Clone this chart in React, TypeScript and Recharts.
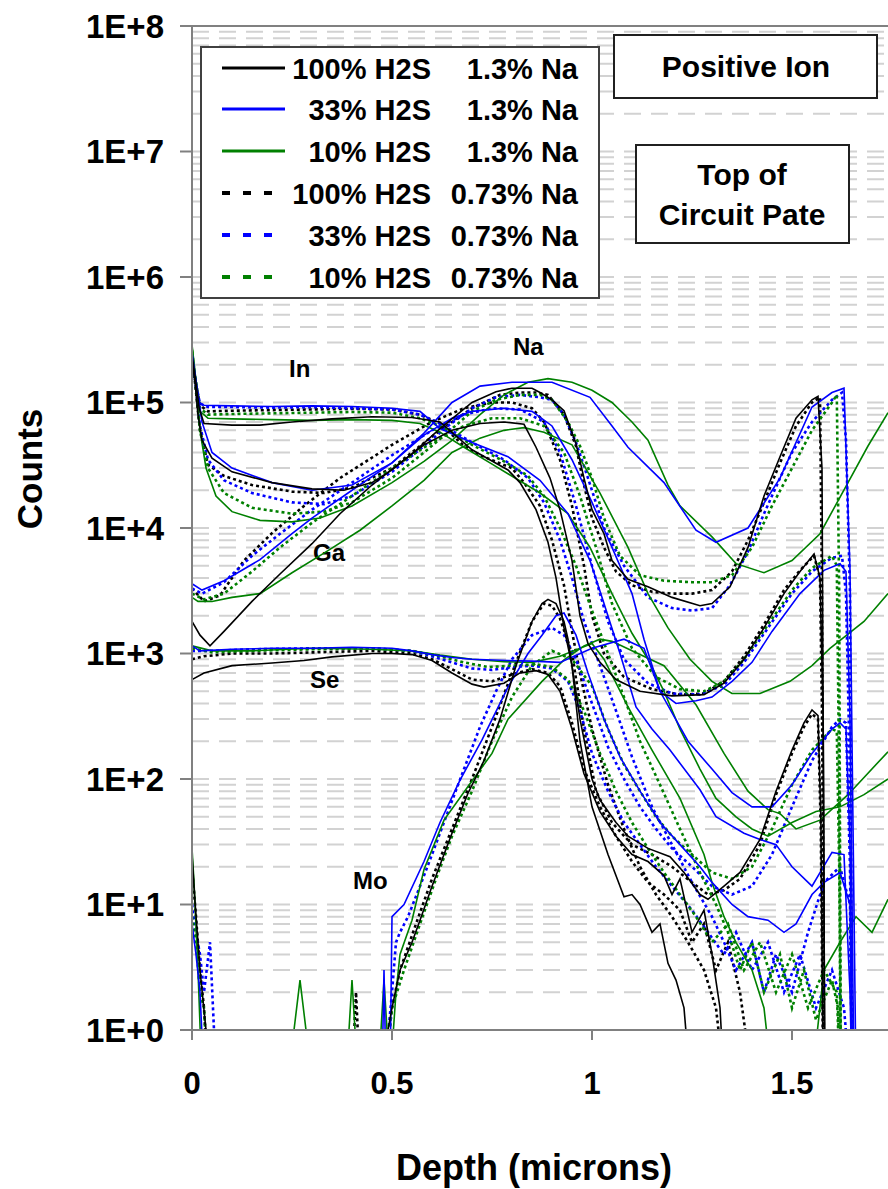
import React from 'react';
import { LineChart, Line, XAxis, YAxis, CartesianGrid, ReferenceLine, Customized } from 'recharts';

type Pt = [number, number | null];

const FONT = '"Liberation Sans", Arial, Helvetica, sans-serif';

// axis ticks
const xTicks = [0, 0.5, 1, 1.5];
const yTicks = [1, 1e1, 1e2, 1e3, 1e4, 1e5, 1e6, 1e7, 1e8];
const yTickLabels = ['1E+0', '1E+1', '1E+2', '1E+3', '1E+4', '1E+5', '1E+6', '1E+7', '1E+8'];
const gridDecades = [1, 1e1, 1e2, 1e3, 1e4, 1e5, 1e6, 1e7];
const gridSteps = [1, 2, 3, 4, 5, 6, 7, 8, 9];

// legend
const legendH2S = ['100% H2S', '33% H2S', '10% H2S', '100% H2S', '33% H2S', '10% H2S'];
const legendNa = ['1.3% Na', '1.3% Na', '1.3% Na', '0.73% Na', '0.73% Na', '0.73% Na'];

// ---- 100% H2S 1.3% Na (black solid) ----
const inK13: Pt[] = [[0,2.4e5],[0.008,1.6e5],[0.018,9e4],[0.03,6.8e4],[0.1,6.6e4],[0.17,6.6e4],[0.25,7e4],[0.35,7.4e4],[0.45,7.7e4],[0.55,7.6e4],[0.62,7e4],[0.7,4.2e4],[0.79,2.9e4],[0.82,2.3e4],[0.86,1.4e4],[0.89,7.7e3],[0.91,4e3],[0.93,1.6e3],[0.95,800],[0.97,200],[1.0,60],[1.04,25],[1.08,11.5],[1.1,12],[1.12,10],[1.15,6],[1.17,7],[1.19,3.4],[1.21,2.5],[1.23,1.5],[1.245,0.4]];
const naK13: Pt[] = [[0,2.2e5],[0.008,1.4e5],[0.015,8e4],[0.025,5e4],[0.05,3.6e4],[0.1,2.8e4],[0.2,2.3e4],[0.3,2.05e4],[0.38,2e4],[0.45,2.3e4],[0.5,2.9e4],[0.55,3.9e4],[0.62,6.2e4],[0.7,1e5],[0.76,1.22e5],[0.8,1.3e5],[0.85,1.3e5],[0.87,1.2e5],[0.9,1.05e5],[0.93,8.6e4],[0.96,4.7e4],[0.98,2.5e4],[1.0,1.4e4],[1.03,9e3],[1.05,5.5e3],[1.09,3.9e3],[1.14,3.4e3],[1.2,2.8e3],[1.27,2.4e3],[1.3,2.5e3],[1.345,3.4e3],[1.39,7e3],[1.43,1.8e4],[1.47,3.7e4],[1.51,7.5e4],[1.55,1.05e5],[1.565,1.12e5],[1.575,3e4],[1.582,0.4]];
const gaK13: Pt[] = [[0,1.8e3],[0.02,1.4e3],[0.045,1.15e3],[0.08,1.5e3],[0.15,2.6e3],[0.22,4.3e3],[0.3,7.5e3],[0.37,1.3e4],[0.45,2.2e4],[0.52,3.3e4],[0.58,4.6e4],[0.65,6e4],[0.72,6.8e4],[0.78,7e4],[0.83,6.7e4],[0.86,4.4e4],[0.895,2.5e4],[0.92,1.4e4],[0.95,5.5e3],[0.97,2e3],[0.99,1.2e3],[1.02,850],[1.06,620],[1.12,500],[1.2,460],[1.28,470],[1.33,580],[1.38,900],[1.43,1.6e3],[1.48,3e3],[1.52,4.5e3],[1.555,6.2e3],[1.57,4e3],[1.578,300],[1.582,0.4]];
const seK13: Pt[] = [[0,620],[0.03,700],[0.1,800],[0.2,840],[0.28,880],[0.35,940],[0.45,1e3],[0.5,1e3],[0.55,980],[0.6,880],[0.65,700],[0.7,570],[0.73,540],[0.78,580],[0.82,700],[0.86,730],[0.89,680],[0.92,500],[0.95,250],[0.98,110],[1.02,55],[1.06,35],[1.1,25],[1.14,22],[1.18,17],[1.2,12],[1.22,16],[1.25,6],[1.28,9],[1.3,4],[1.32,1.5],[1.33,0.4]];
const moK13: Pt[] = [[0,25],[0.008,10],[0.02,3],[0.035,1],[0.042,0.4],[0.045,null],[0.47,0.4],[0.49,1],[0.5,1.5],[0.52,3],[0.55,5],[0.57,7.5],[0.6,14],[0.65,37],[0.69,77],[0.73,140],[0.77,300],[0.81,800],[0.85,1.8e3],[0.875,2.5e3],[0.89,2.7e3],[0.91,2.5e3],[0.93,1.8e3],[0.94,1.3e3],[0.97,300],[1.0,100],[1.02,68],[1.06,45],[1.09,35],[1.14,28],[1.195,24],[1.23,18],[1.27,12],[1.29,11],[1.33,14],[1.37,18],[1.42,33],[1.46,80],[1.5,170],[1.53,280],[1.55,355],[1.565,320],[1.572,50],[1.578,0.4]];

// ---- 33% H2S 1.3% Na (blue solid) ----
const inB13: Pt[] = [[0,2.3e5],[0.008,1.5e5],[0.018,1e5],[0.03,9.5e4],[0.1,9.4e4],[0.2,9.3e4],[0.3,9.4e4],[0.4,9.3e4],[0.5,9e4],[0.57,8.5e4],[0.62,6.2e4],[0.7,4.8e4],[0.79,3.7e4],[0.87,2.4e4],[0.94,1.3e4],[0.995,5.5e3],[1.03,2.5e3],[1.07,1e3],[1.11,375],[1.15,250],[1.195,170],[1.27,82],[1.31,50],[1.38,37],[1.42,33],[1.46,30],[1.5,20],[1.55,14],[1.6,26],[1.63,25],[1.645,2],[1.65,0.4]];
const naB13: Pt[] = [[0,2.5e5],[0.01,1.5e5],[0.025,7e4],[0.05,4e4],[0.1,3e4],[0.2,2.3e4],[0.3,2e4],[0.4,2.2e4],[0.5,3.3e4],[0.58,5.7e4],[0.65,1e5],[0.72,1.35e5],[0.8,1.45e5],[0.9,1.45e5],[0.995,1.1e5],[1.05,6.5e4],[1.09,4.4e4],[1.18,2.3e4],[1.26,9.6e3],[1.31,7.7e3],[1.39,1e4],[1.47,2.5e4],[1.55,9.2e4],[1.6,1.2e5],[1.63,1.3e5],[1.645,4.6e3],[1.66,0.4]];
const gaB13: Pt[] = [[0,3.6e3],[0.025,3.2e3],[0.08,3.8e3],[0.17,5.6e3],[0.25,9e3],[0.3,1.2e4],[0.4,2e4],[0.5,3.3e4],[0.58,5.5e4],[0.65,7.5e4],[0.7,8.5e4],[0.78,9e4],[0.85,8.5e4],[0.9,6.5e4],[0.95,3.5e4],[1.0,1.6e4],[1.05,7e3],[1.1,3e3],[1.13,1.3e3],[1.17,500],[1.21,400],[1.26,420],[1.3,450],[1.35,600],[1.4,850],[1.45,1.5e3],[1.52,3e3],[1.58,4.6e3],[1.62,5.2e3],[1.635,4.5e3],[1.645,300],[1.655,0.4]];
const seB13: Pt[] = [[0,1.15e3],[0.02,1.05e3],[0.1,1.08e3],[0.2,1.1e3],[0.3,1.1e3],[0.4,1.12e3],[0.5,1.1e3],[0.55,1.05e3],[0.6,980],[0.65,930],[0.7,900],[0.79,880],[0.85,870],[0.92,850],[1.0,1.1e3],[1.08,1.3e3],[1.13,1.1e3],[1.17,500],[1.24,200],[1.3,120],[1.35,78],[1.4,60],[1.45,60],[1.5,90],[1.55,160],[1.6,250],[1.62,280],[1.635,250],[1.645,30],[1.652,0.4]];
const moB13: Pt[] = [[0,7],[0.01,4],[0.02,2],[0.03,0.4],[0.035,null],[0.475,0.4],[0.48,3],[0.485,0.4],[0.487,null],[0.495,0.4],[0.5,8],[0.53,10],[0.58,22],[0.62,45],[0.67,98],[0.725,205],[0.79,540],[0.84,1e3],[0.875,1.4e3],[0.91,2e3],[0.93,2.1e3],[0.96,1.4e3],[0.99,700],[1.03,300],[1.07,150],[1.12,80],[1.17,45],[1.22,30],[1.27,20],[1.3,15],[1.35,10],[1.39,8],[1.44,7.5],[1.48,6],[1.51,7],[1.55,12],[1.58,15],[1.62,18],[1.645,10],[1.65,0.4]];

// ---- 10% H2S 1.3% Na (green solid) ----
const inG13: Pt[] = [[0,2.9e5],[0.008,1.7e5],[0.02,8.5e4],[0.04,7.5e4],[0.1,7.4e4],[0.2,7.3e4],[0.3,7.2e4],[0.4,7.3e4],[0.5,7.2e4],[0.57,6.8e4],[0.62,5.8e4],[0.68,4.4e4],[0.745,3.3e4],[0.87,1.9e4],[0.94,1.3e4],[0.995,7e3],[1.05,3e3],[1.1,1.45e3],[1.14,900],[1.18,500],[1.22,250],[1.27,120],[1.31,70],[1.36,50],[1.4,40],[1.44,35],[1.5,45],[1.56,55],[1.62,60],[1.68,75],[1.74,100]];
const naG13: Pt[] = [[0,2.8e5],[0.008,1.6e5],[0.02,6e4],[0.035,3e4],[0.06,1.8e4],[0.1,1.35e4],[0.17,1.15e4],[0.25,1.12e4],[0.32,1.2e4],[0.4,1.5e4],[0.5,2.3e4],[0.58,3.4e4],[0.65,5e4],[0.72,8e4],[0.78,1.15e5],[0.84,1.45e5],[0.89,1.55e5],[0.95,1.45e5],[1.0,1.25e5],[1.05,1e5],[1.1,7e4],[1.14,5e4],[1.19,2.2e4],[1.22,1.5e4],[1.3,8.5e3],[1.36,5.2e3],[1.43,4.4e3],[1.5,5.5e3],[1.57,9e3],[1.64,2.3e4],[1.69,4.5e4],[1.74,8.3e4]];
const gaG13: Pt[] = [[0,2.8e3],[0.015,2.6e3],[0.05,2.6e3],[0.1,2.8e3],[0.17,3e3],[0.25,4.4e3],[0.33,6.3e3],[0.42,9.6e3],[0.5,1.5e4],[0.58,2.4e4],[0.65,4e4],[0.72,5.2e4],[0.78,6e4],[0.83,6.3e4],[0.88,5.8e4],[0.95,4.6e4],[1.02,1.9e4],[1.09,7e3],[1.14,3e3],[1.19,1.6e3],[1.245,900],[1.3,600],[1.35,480],[1.42,480],[1.495,600],[1.55,800],[1.595,1.1e3],[1.68,1.8e3],[1.74,3e3]];
const seG13: Pt[] = [[0,1.15e3],[0.05,1.05e3],[0.15,1.05e3],[0.3,1.1e3],[0.45,1.08e3],[0.55,1.05e3],[0.62,970],[0.7,900],[0.78,860],[0.85,850],[0.92,950],[1.0,1.2e3],[1.03,900],[1.09,375],[1.15,170],[1.22,70],[1.28,25],[1.3,15],[1.33,8],[1.36,5],[1.4,3],[1.43,1.5],[1.45,0.4],[1.46,null],[1.55,0.4],[1.58,3],[1.62,5],[1.66,8],[1.7,6],[1.74,11]];
const moG13: Pt[] = [[0,28],[0.005,15],[0.015,3],[0.025,0.4],[0.03,null],[0.24,0.4],[0.27,2.5],[0.3,0.4],[0.31,null],[0.385,0.4],[0.4,2.5],[0.415,0.4],[0.42,null],[0.465,0.4],[0.48,2.5],[0.495,0.4],[0.51,2],[0.52,4],[0.55,7.5],[0.58,19],[0.63,47],[0.69,87],[0.75,160],[0.79,300],[0.875,600],[0.93,890],[0.98,1.15e3],[1.02,1.3e3],[1.05,1.25e3],[1.1,1.05e3],[1.18,800],[1.26,390],[1.33,160],[1.39,80],[1.44,57],[1.47,53],[1.51,40],[1.57,47],[1.64,75],[1.74,165]];

// ---- 100% H2S 0.73% Na (black dotted) ----
const inK073: Pt[] = [[0,2.4e5],[0.008,1.5e5],[0.02,9.5e4],[0.04,8.5e4],[0.1,8.6e4],[0.2,8.7e4],[0.3,8.8e4],[0.4,8.9e4],[0.5,8.8e4],[0.57,8e4],[0.62,6.8e4],[0.68,4.5e4],[0.72,3.8e4],[0.8,3e4],[0.83,2.3e4],[0.87,1.5e4],[0.9,8e3],[0.93,3.5e3],[0.95,1.5e3],[0.97,700],[1.0,250],[1.04,90],[1.08,40],[1.12,20],[1.16,12],[1.2,8],[1.24,5],[1.28,3],[1.31,1.5],[1.33,0.4]];
const naK073: Pt[] = [[0,2.3e5],[0.008,1.4e5],[0.02,6e4],[0.04,3.2e4],[0.08,2.6e4],[0.15,2.2e4],[0.25,1.95e4],[0.33,1.9e4],[0.4,2.1e4],[0.5,3e4],[0.57,4.5e4],[0.62,6e4],[0.7,9e4],[0.77,1.15e5],[0.82,1.2e5],[0.86,1.2e5],[0.89,1.15e5],[0.93,8e4],[0.96,4.5e4],[0.98,2.2e4],[1.0,1.2e4],[1.03,7e3],[1.06,4.5e3],[1.1,3.5e3],[1.15,3.1e3],[1.2,3e3],[1.25,3e3],[1.3,3.2e3],[1.35,4.5e3],[1.39,8e3],[1.43,1.6e4],[1.47,3.3e4],[1.51,6.5e4],[1.55,1e5],[1.57,1.1e5],[1.575,3e3],[1.58,0.4]];
const gaK073: Pt[] = [[0,3.3e3],[0.03,2.6e3],[0.07,2.9e3],[0.13,5.5e3],[0.2,9.1e3],[0.28,1.5e4],[0.37,2.5e4],[0.5,4.6e4],[0.6,7e4],[0.68,9e4],[0.75,1e5],[0.8,1e5],[0.85,9e4],[0.88,7e4],[0.92,3.5e4],[0.95,1.5e4],[0.98,5e3],[1.0,2e3],[1.03,1e3],[1.08,650],[1.15,520],[1.22,470],[1.28,480],[1.33,600],[1.38,950],[1.43,1.7e3],[1.48,3.2e3],[1.52,4.6e3],[1.555,6e3],[1.57,4e3],[1.576,200],[1.58,0.4]];
const seK073: Pt[] = [[0,900],[0.03,950],[0.1,1e3],[0.2,1e3],[0.3,1.02e3],[0.45,1.05e3],[0.55,1e3],[0.6,900],[0.65,750],[0.7,620],[0.75,600],[0.8,680],[0.85,750],[0.89,700],[0.92,550],[0.95,280],[0.98,120],[1.02,60],[1.06,35],[1.1,22],[1.14,15],[1.18,12],[1.22,9],[1.25,5],[1.28,7],[1.31,3],[1.34,5],[1.37,2],[1.4,0.4]];
const moK073: Pt[] = [[0,20],[0.01,8],[0.02,3],[0.03,1.5],[0.04,0.4],[0.045,null],[0.4,0.4],[0.41,2],[0.42,0.4],[0.425,null],[0.48,0.4],[0.5,1.5],[0.52,3],[0.56,7],[0.6,16],[0.65,40],[0.7,100],[0.75,260],[0.8,700],[0.85,1.8e3],[0.88,2.5e3],[0.9,2.4e3],[0.92,1.9e3],[0.95,1e3],[0.98,250],[1.01,80],[1.05,45],[1.1,30],[1.15,25],[1.2,20],[1.25,15],[1.29,12],[1.33,13],[1.37,16],[1.42,30],[1.46,75],[1.5,160],[1.53,260],[1.55,330],[1.565,300],[1.572,40],[1.578,0.4]];

// ---- 33% H2S 0.73% Na (blue dotted) ----
const inB073: Pt[] = [[0,2.3e5],[0.008,1.5e5],[0.02,9.8e4],[0.04,9.2e4],[0.1,9.2e4],[0.2,9.1e4],[0.3,9.2e4],[0.4,9e4],[0.5,8.8e4],[0.57,8e4],[0.62,6.8e4],[0.7,4.8e4],[0.78,3.5e4],[0.84,2.5e4],[0.88,1.6e4],[0.92,8e3],[0.95,4e3],[0.98,1.8e3],[1.02,800],[1.06,350],[1.1,150],[1.15,60],[1.2,30],[1.25,15],[1.3,8],[1.33,5],[1.36,3],[1.4,5],[1.43,2],[1.46,4],[1.5,2],[1.54,6],[1.58,15],[1.62,20],[1.645,10],[1.65,0.4]];
const naB073: Pt[] = [[0,2.4e5],[0.008,1.5e5],[0.02,6.5e4],[0.04,3.5e4],[0.08,2.4e4],[0.15,1.9e4],[0.25,1.6e4],[0.33,1.55e4],[0.4,1.8e4],[0.5,2.8e4],[0.58,4.5e4],[0.64,6.5e4],[0.7,9e4],[0.76,1.1e5],[0.82,1.15e5],[0.87,1.1e5],[0.9,1.05e5],[0.93,8e4],[0.96,4.8e4],[0.99,2.5e4],[1.03,1e4],[1.08,5e3],[1.14,2.8e3],[1.2,2.3e3],[1.25,2.2e3],[1.3,2.3e3],[1.345,3.5e3],[1.39,6.5e3],[1.43,1.3e4],[1.47,2.5e4],[1.5,4e4],[1.55,7e4],[1.6,1.05e5],[1.625,1.2e5],[1.635,5e4],[1.645,3e3],[1.65,0.4]];
const gaB073: Pt[] = [[0,3.3e3],[0.025,3e3],[0.08,3.7e3],[0.15,6e3],[0.22,9e3],[0.3,1.4e4],[0.4,2.3e4],[0.5,3.8e4],[0.6,6e4],[0.68,8e4],[0.75,9e4],[0.82,8.8e4],[0.88,7e4],[0.92,4e4],[0.96,1.5e4],[1.0,5e3],[1.04,1.8e3],[1.08,900],[1.14,580],[1.2,480],[1.27,470],[1.33,560],[1.38,850],[1.44,1.6e3],[1.5,3e3],[1.55,4.5e3],[1.6,5.8e3],[1.625,6e3],[1.635,3e3],[1.645,100],[1.65,0.4]];
const seB073: Pt[] = [[0,1.05e3],[0.05,1.05e3],[0.15,1.08e3],[0.3,1.1e3],[0.45,1.1e3],[0.55,1.05e3],[0.6,950],[0.65,850],[0.7,760],[0.75,740],[0.8,780],[0.85,800],[0.9,760],[0.94,600],[0.97,350],[1.0,160],[1.04,80],[1.08,45],[1.12,30],[1.16,20],[1.2,14],[1.25,9],[1.29,6],[1.33,4],[1.36,6],[1.4,3],[1.44,5],[1.48,2],[1.52,4],[1.56,1.5],[1.6,3],[1.63,1.5],[1.645,0.4]];
const moB073: Pt[] = [[0,10],[0.01,6],[0.02,4],[0.03,2],[0.045,5],[0.055,1],[0.06,0.4],[0.065,null],[0.48,0.4],[0.5,2],[0.51,5],[0.52,6],[0.54,8],[0.57,14],[0.6,25],[0.64,55],[0.68,120],[0.72,260],[0.76,500],[0.8,900],[0.85,1.4e3],[0.9,1.6e3],[0.93,1.4e3],[0.96,900],[1.0,400],[1.04,180],[1.08,100],[1.12,60],[1.16,40],[1.2,28],[1.25,20],[1.3,14],[1.35,12],[1.4,14],[1.45,25],[1.5,60],[1.55,140],[1.6,260],[1.62,300],[1.635,280],[1.645,20],[1.65,0.4]];

// ---- 10% H2S 0.73% Na (green dotted) ----
const inG073: Pt[] = [[0,2.5e5],[0.008,1.6e5],[0.02,9e4],[0.04,8e4],[0.1,8.1e4],[0.2,8.2e4],[0.3,8.3e4],[0.4,8.4e4],[0.5,8.3e4],[0.57,7.5e4],[0.62,6.5e4],[0.7,4.6e4],[0.78,3.4e4],[0.84,2.6e4],[0.88,1.8e4],[0.92,1e4],[0.96,5e3],[1.0,2.2e3],[1.04,1e3],[1.08,450],[1.12,200],[1.17,90],[1.22,40],[1.27,18],[1.31,10],[1.34,6],[1.37,3],[1.4,5],[1.43,2],[1.47,4],[1.5,1.5],[1.53,3],[1.56,1.2],[1.6,2.5],[1.615,1.5],[1.62,0.4]];
const naG073: Pt[] = [[0,2.6e5],[0.008,1.5e5],[0.02,6e4],[0.04,3e4],[0.08,1.9e4],[0.15,1.45e4],[0.25,1.3e4],[0.33,1.35e4],[0.4,1.6e4],[0.5,2.5e4],[0.58,4e4],[0.64,5.8e4],[0.7,8.5e4],[0.76,1.05e5],[0.82,1.15e5],[0.87,1.15e5],[0.9,1.05e5],[0.94,7e4],[0.97,4.5e4],[1.0,2.5e4],[1.03,1.2e4],[1.07,6e3],[1.12,4.2e3],[1.18,3.8e3],[1.25,3.7e3],[1.3,3.7e3],[1.35,4.2e3],[1.4,7e3],[1.45,1.5e4],[1.5,3e4],[1.55,6e4],[1.6,1e5],[1.612,1.15e5],[1.618,3e3],[1.622,0.4]];
const gaG073: Pt[] = [[0,3e3],[0.03,2.7e3],[0.08,3e3],[0.15,4.5e3],[0.22,7e3],[0.3,1.1e4],[0.4,1.8e4],[0.5,3e4],[0.6,4.8e4],[0.68,6.5e4],[0.75,7.5e4],[0.82,7.5e4],[0.88,6.5e4],[0.93,4e4],[0.97,1.8e4],[1.01,7e3],[1.05,2.5e3],[1.1,1.1e3],[1.16,650],[1.22,520],[1.28,500],[1.33,600],[1.38,900],[1.44,1.7e3],[1.5,3.2e3],[1.55,4.8e3],[1.6,6e3],[1.612,5e3],[1.618,100],[1.622,0.4]];
const seG073: Pt[] = [[0,1.1e3],[0.05,1.02e3],[0.15,1.05e3],[0.3,1.08e3],[0.45,1.1e3],[0.55,1.05e3],[0.62,950],[0.68,850],[0.74,780],[0.8,800],[0.86,820],[0.9,780],[0.94,620],[0.98,350],[1.02,160],[1.06,80],[1.1,45],[1.14,28],[1.18,18],[1.22,12],[1.26,8],[1.3,5],[1.34,7],[1.38,3],[1.42,5],[1.46,2],[1.5,4],[1.54,1.5],[1.58,3],[1.612,2],[1.62,0.4]];
const moG073: Pt[] = [[0,8],[0.01,5],[0.02,2],[0.03,1.5],[0.04,0.4],[0.045,null],[0.48,0.4],[0.5,1.5],[0.53,3],[0.57,7],[0.61,16],[0.65,35],[0.7,80],[0.75,200],[0.8,450],[0.85,800],[0.9,1.05e3],[0.95,900],[1.0,550],[1.04,250],[1.08,130],[1.12,80],[1.16,50],[1.2,35],[1.25,25],[1.3,18],[1.35,16],[1.4,20],[1.45,40],[1.5,90],[1.55,170],[1.6,250],[1.612,240],[1.618,20],[1.622,0.4]];

const seriesList = [
  { key: 'k073', color: '#000000', dashed: true, curves: [inK073, naK073, gaK073, seK073, moK073] },
  { key: 'b073', color: '#0000ff', dashed: true, curves: [inB073, naB073, gaB073, seB073, moB073] },
  { key: 'g073', color: '#008000', dashed: true, curves: [inG073, naG073, gaG073, seG073, moG073] },
  { key: 'g13', color: '#008000', dashed: false, curves: [inG13, naG13, gaG13, seG13, moG13] },
  { key: 'b13', color: '#0000ff', dashed: false, curves: [inB13, naB13, gaB13, seB13, moB13] },
  { key: 'k13', color: '#000000', dashed: false, curves: [inK13, naK13, gaK13, seK13, moK13] },
];

const legendRows = [
  { color: '#000000', dashed: false },
  { color: '#0000ff', dashed: false },
  { color: '#008000', dashed: false },
  { color: '#000000', dashed: true },
  { color: '#0000ff', dashed: true },
  { color: '#008000', dashed: true },
];

const toPts = (arr: Pt[]) => arr.map(([x, y]) => ({ x, y }));

const gridValues = gridDecades.flatMap((d) => gridSteps.map((s) => s * d));

const Overlay = () => {
  const rowY = [68, 109, 151, 193, 235, 277];
  return (
    <g fontFamily={FONT} fontWeight="bold" fill="#000">
      {/* element labels */}
      <text x={289} y={377} fontSize={24}>In</text>
      <text x={513} y={355} fontSize={24}>Na</text>
      <text x={313} y={561} fontSize={24}>Ga</text>
      <text x={310} y={688} fontSize={24}>Se</text>
      <text x={353} y={889} fontSize={24}>Mo</text>

      {/* legend */}
      <rect x={201} y={47} width={398} height={251} fill="#fff" stroke="#404040" strokeWidth={2} />
      {legendRows.map((r, i) => (
        <g key={i}>
          <line x1={222} x2={285} y1={rowY[i]} y2={rowY[i]} stroke={r.color}
            strokeWidth={r.dashed ? 4 : 3} strokeDasharray={r.dashed ? '8 13' : undefined} />
          <text x={431} y={rowY[i] + 11} fontSize={29} textAnchor="end">{legendH2S[i]}</text>
          <text x={578} y={rowY[i] + 11} fontSize={29} textAnchor="end">{legendNa[i]}</text>
        </g>
      ))}

      {/* annotation boxes */}
      <rect x={614} y={35} width={263} height={63} fill="#fff" stroke="#202020" strokeWidth={2} />
      <text x={746} y={77} fontSize={30} textAnchor="middle">Positive Ion</text>
      <rect x={636} y={145} width={213} height={98} fill="#fff" stroke="#202020" strokeWidth={2} />
      <text x={742} y={185} fontSize={30} textAnchor="middle">Top of</text>
      <text x={742} y={225} fontSize={30} textAnchor="middle">Circuit Pate</text>

      {/* axis titles */}
      <text x={42} y={469} fontSize={35} textAnchor="middle" transform="rotate(-90 42 469)">Counts</text>
      <text x={534} y={1180} fontSize={36} textAnchor="middle">Depth (microns)</text>
    </g>
  );
};

export default function App() {
  return (
    <div style={{ position: 'absolute', left: 0, top: 0, width: 888, height: 1189, background: '#fff' }}>
      <LineChart width={888} height={1189} margin={{ top: 26, right: 0, left: 112, bottom: 99 }}>
        <CartesianGrid vertical={false} horizontalValues={gridValues} stroke="#d2d2d2"
          strokeWidth={2} strokeDasharray="17 10" />
        <XAxis type="number" dataKey="x" domain={[0, 1.74]} allowDataOverflow ticks={xTicks} interval={0}
          height={60} tickSize={10} tickMargin={32}
          axisLine={{ stroke: '#808080', strokeWidth: 2 }} tickLine={{ stroke: '#808080', strokeWidth: 2 }}
          tick={{ fill: '#000', fontSize: 31, fontWeight: 'bold', fontFamily: FONT }} />
        <YAxis type="number" scale="log" domain={[1, 1e8]} allowDataOverflow ticks={yTicks} interval={0}
          width={80} tickSize={12} tickMargin={16}
          tickFormatter={(v: number) => yTickLabels[yTicks.indexOf(v)] ?? ''}
          axisLine={{ stroke: '#808080', strokeWidth: 2 }} tickLine={{ stroke: '#808080', strokeWidth: 2 }}
          tick={{ fill: '#000', fontSize: 33, fontWeight: 'bold', fontFamily: FONT }} />
        <ReferenceLine y={1e8} stroke="#808080" strokeWidth={2} />
        {seriesList.flatMap((s) =>
          s.curves.map((c, j) => (
            <Line key={`${s.key}-${j}`} data={toPts(c)} dataKey="y" type="linear"
              stroke={s.color} strokeWidth={s.dashed ? 2.6 : 1.6}
              strokeDasharray={s.dashed ? '3 3' : undefined}
              dot={false} activeDot={false} isAnimationActive={false} />
          ))
        )}
        <Customized component={Overlay} />
      </LineChart>
    </div>
  );
}
